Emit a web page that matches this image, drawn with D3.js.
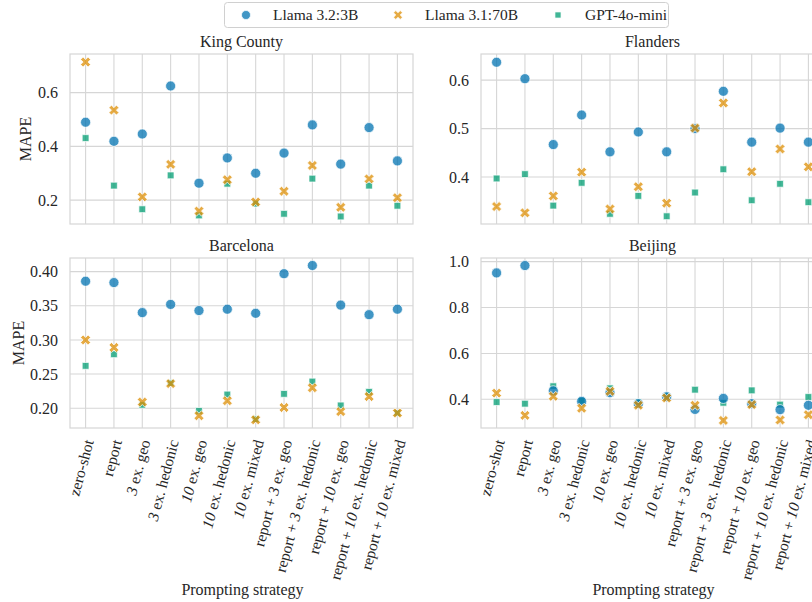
<!DOCTYPE html>
<html lang="en">
<head>
  <meta charset="UTF-8">
  <title>MAPE by prompting strategy</title>
  <script src="https://d3js.org/d3.v7.min.js"></script>
  <style>
    body {
      margin: 0;
      padding: 0;
      background: #fff;
      overflow: hidden;
    }
    svg {
      display: block;
    }
    .grid line {
      stroke: #d6d6d6;
      stroke-width: 1.1;
    }
    .frame {
      fill: none;
      stroke: #d6d6d6;
      stroke-width: 1.2;
    }
  </style>
</head>
<body>
  <svg id="chart" width="812" height="602"></svg>

  <script>
    const FONT = "'Liberation Serif'";

    // x categories
    const strategies = [
      "zero-shot", "report", "3 ex. geo", "3 ex. hedonic", "10 ex. geo",
      "10 ex. hedonic", "10 ex. mixed", "report + 3 ex. geo",
      "report + 3 ex. hedonic", "report + 10 ex. geo",
      "report + 10 ex. hedonic", "report + 10 ex. mixed"
    ];

    const models = ["Llama 3.2:3B", "Llama 3.1:70B", "GPT-4o-mini"];

    // values, one array per model and city
    const kingLlama3b  = [0.490, 0.419, 0.446, 0.625, 0.263, 0.357, 0.300, 0.375, 0.480, 0.334, 0.470, 0.346];
    const kingLlama70b = [0.714, 0.535, 0.212, 0.333, 0.159, 0.276, 0.193, 0.233, 0.329, 0.173, 0.279, 0.209];
    const kingGpt      = [0.431, 0.254, 0.166, 0.292, 0.143, 0.261, 0.187, 0.149, 0.280, 0.139, 0.254, 0.179];

    const flandersLlama3b  = [0.637, 0.603, 0.467, 0.528, 0.452, 0.493, 0.452, 0.500, 0.577, 0.472, 0.501, 0.472];
    const flandersLlama70b = [0.339, 0.326, 0.361, 0.410, 0.334, 0.380, 0.346, 0.501, 0.553, 0.411, 0.458, 0.421];
    const flandersGpt      = [0.397, 0.406, 0.341, 0.388, 0.324, 0.361, 0.319, 0.368, 0.416, 0.352, 0.386, 0.348];

    const barcelonaLlama3b  = [0.386, 0.384, 0.340, 0.352, 0.343, 0.345, 0.339, 0.397, 0.409, 0.351, 0.337, 0.345];
    const barcelonaLlama70b = [0.300, 0.289, 0.209, 0.236, 0.189, 0.211, 0.183, 0.201, 0.230, 0.195, 0.217, 0.193];
    const barcelonaGpt      = [0.262, 0.279, 0.205, 0.237, 0.196, 0.220, 0.184, 0.221, 0.239, 0.204, 0.224, 0.193];

    const beijingLlama3b  = [0.951, 0.983, 0.437, 0.391, 0.429, 0.381, 0.411, 0.356, 0.404, 0.381, 0.355, 0.374];
    const beijingLlama70b = [0.427, 0.330, 0.413, 0.361, 0.435, 0.374, 0.406, 0.374, 0.308, 0.377, 0.310, 0.333];
    const beijingGpt      = [0.388, 0.381, 0.457, 0.394, 0.448, 0.387, 0.414, 0.442, 0.385, 0.439, 0.377, 0.410];

    const kingTicks = [0.2, 0.4, 0.6];
    const flandersTicks = [0.4, 0.5, 0.6];
    const barcelonaTicks = [0.20, 0.25, 0.30, 0.35, 0.40];
    const beijingTicks = [0.4, 0.6, 0.8, 1.0];

    const colors = { "Llama 3.2:3B": "#0173b2", "Llama 3.1:70B": "#de8f05", "GPT-4o-mini": "#029e73" };

    const panels = [
      { title: "King County", col: 0, row: 0, domain: [0.111, 0.744], ticks: kingTicks, fmt: ".1f",
        series: [kingLlama3b, kingLlama70b, kingGpt], ylabel: true, ylabelX: 25 },
      { title: "Flanders", col: 1, row: 0, domain: [0.303, 0.654], ticks: flandersTicks, fmt: ".1f",
        series: [flandersLlama3b, flandersLlama70b, flandersGpt], ylabel: false },
      { title: "Barcelona", col: 0, row: 1, domain: [0.171, 0.420], ticks: barcelonaTicks, fmt: ".2f",
        series: [barcelonaLlama3b, barcelonaLlama70b, barcelonaGpt], ylabel: true, ylabelX: 18 },
      { title: "Beijing", col: 1, row: 1, domain: [0.275, 1.016], ticks: beijingTicks, fmt: ".1f",
        series: [beijingLlama3b, beijingLlama70b, beijingGpt], ylabel: false }
    ];

    const panelW = 343, panelH = 170;
    const colX = [70, 481];
    const rowY = [54, 258];

    const svg = d3.select("#chart").style("font-family", FONT);

    // helper for text in the figure's serif face
    function addText(sel, size) {
      return sel.append("text")
        .style("font-family", FONT)
        .style("font-size", size + "px")
        .style("fill", "#262626");
    }

    // marker shapes
    const shapes = {
      "Llama 3.2:3B": { sym: d3.symbolCircle, size: 80, rot: 0 },
      "Llama 3.1:70B": { sym: d3.symbolCross, size: 62, rot: 45 },
      "GPT-4o-mini": { sym: d3.symbolSquare, size: 46, rot: 0 }
    };

    // drawing order so overlaps look like the original
    const drawOrder = [2, 0, 1];

    panels.forEach(function(p) {
      const x0 = colX[p.col], y0 = rowY[p.row];
      const g = svg.append("g");

      const x = d3.scalePoint()
        .domain(strategies)
        .range([x0, x0 + panelW])
        .padding(0.55);

      const y = d3.scaleLinear()
        .domain(p.domain)
        .range([y0 + panelH, y0]);

      // grid
      const grid = g.append("g").attr("class", "grid");
      grid.selectAll(".v").data(strategies).enter().append("line")
        .attr("x1", d => x(d)).attr("x2", d => x(d))
        .attr("y1", y0).attr("y2", y0 + panelH);
      grid.selectAll(".h").data(p.ticks).enter().append("line")
        .attr("x1", x0).attr("x2", x0 + panelW)
        .attr("y1", d => y(d)).attr("y2", d => y(d));

      g.append("rect").attr("class", "frame")
        .attr("x", x0).attr("y", y0).attr("width", panelW).attr("height", panelH);

      // y tick labels through the axis generator
      const yAxis = g.append("g")
        .attr("transform", `translate(${x0},0)`)
        .call(d3.axisLeft(y).tickValues(p.ticks).tickFormat(d3.format(p.fmt)).tickSize(0).tickPadding(12));
      yAxis.select(".domain").remove();
      yAxis.selectAll("text")
        .style("font-family", FONT)
        .style("font-size", "16px")
        .style("fill", "#262626");

      // title
      addText(g, 16)
        .attr("x", x0 + panelW / 2).attr("y", y0 - 7)
        .attr("text-anchor", "middle")
        .text(p.title);

      if (p.ylabel) {
        addText(g, 16)
          .attr("transform", `translate(${p.ylabelX},${y0 + panelH / 2}) rotate(-90)`)
          .attr("text-anchor", "middle")
          .attr("dy", "0.35em")
          .text("MAPE");
      }

      // points
      drawOrder.forEach(function(mi) {
        const m = models[mi];
        const sh = shapes[m];
        const vals = p.series[mi];
        g.selectAll(".pt-" + mi).data(vals).enter().append("path")
          .attr("d", d3.symbol(sh.sym, sh.size))
          .attr("transform", (d, i) => `translate(${x(strategies[i])},${y(d)}) rotate(${sh.rot})`)
          .attr("fill", colors[m])
          .attr("fill-opacity", 0.75)
          .attr("stroke", "#fff")
          .attr("stroke-width", 0.7);
      });

      // x labels only on bottom row
      if (p.row === 1) {
        const labels = g.append("g");
        strategies.forEach(function(s) {
          const t = addText(labels, 15.5)
            .attr("text-anchor", "end")
            .attr("transform", `translate(${x(s) + 3},${y0 + panelH + 12}) rotate(-75)`)
            .attr("dy", "0.35em");
          // digits are set in italics, like the original math text
          s.split(/(\d+)/).forEach(function(part) {
            if (part === "") return;
            t.append("tspan")
              .style("font-style", /^\d+$/.test(part) ? "italic" : "normal")
              .text(part);
          });
        });

        addText(g, 16)
          .attr("x", x0 + panelW / 2 + 1).attr("y", 595)
          .attr("text-anchor", "middle")
          .text("Prompting strategy");
      }
    });

    // legend
    const legend = svg.append("g");
    legend.append("rect")
      .attr("x", 224.5).attr("y", 2.5).attr("width", 444).attr("height", 25)
      .attr("rx", 3)
      .attr("fill", "#fff")
      .attr("stroke", "#d0d0d0");

    const legendX = [246, 398, 558];
    models.forEach(function(m, i) {
      const sh = shapes[m];
      legend.append("path")
        .attr("d", d3.symbol(sh.sym, sh.size * 0.8))
        .attr("transform", `translate(${legendX[i]},15) rotate(${sh.rot})`)
        .attr("fill", colors[m])
        .attr("fill-opacity", 0.75)
        .attr("stroke", "#fff")
        .attr("stroke-width", 0.7);
      addText(legend, 15.5)
        .attr("x", legendX[i] + 27).attr("y", 15)
        .attr("dy", "0.35em")
        .text(m);
    });
  </script>
</body>
</html>
